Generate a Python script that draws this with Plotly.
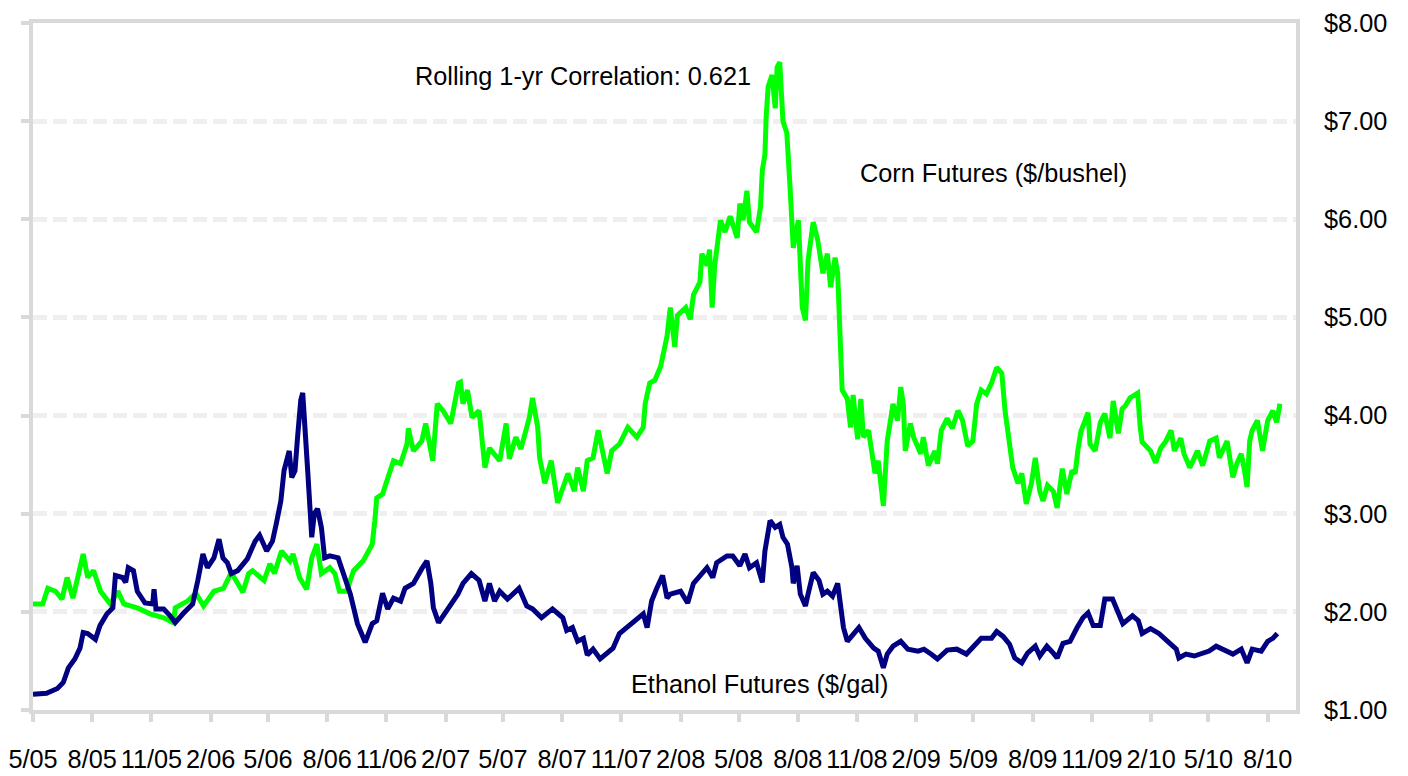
import plotly.graph_objects as go

# ---------------- data ----------------
corn_dates = (
    ["2005-05-01","2005-05-16","2005-05-24","2005-06-05","2005-06-15","2005-06-23","2005-07-02","2005-07-10","2005-07-18","2005-07-25",
     "2005-08-03","2005-08-14","2005-08-29","2005-09-10","2005-09-19","2005-10-10","2005-10-30","2005-11-20","2005-12-05","2005-12-08","2005-12-27"]
    + ["2006-01-09","2006-01-21","2006-02-06","2006-02-21","2006-03-05","2006-03-23","2006-04-01","2006-04-07","2006-04-25","2006-05-04",
       "2006-05-11","2006-05-22","2006-06-04","2006-06-09","2006-06-19","2006-06-30","2006-07-08","2006-07-16","2006-07-23","2006-08-05",
       "2006-08-13","2006-08-20","2006-08-31","2006-09-11","2006-09-26","2006-10-10","2006-10-14","2006-10-17","2006-10-26","2006-11-04",
       "2006-11-12","2006-11-23","2006-12-03","2006-12-05","2006-12-13","2006-12-26"]
    + ["2007-01-01","2007-01-12","2007-01-19","2007-01-28","2007-02-09","2007-02-21","2007-02-24","2007-02-28","2007-03-07","2007-03-14",
       "2007-03-25","2007-04-03","2007-04-10","2007-04-26","2007-05-06","2007-05-11","2007-05-21","2007-05-29","2007-06-11","2007-06-16",
       "2007-06-24","2007-06-27","2007-07-05","2007-07-15","2007-07-25","2007-08-10","2007-08-20","2007-08-25","2007-09-03","2007-09-09",
       "2007-09-18","2007-09-26","2007-10-10","2007-10-17","2007-10-29","2007-11-11","2007-11-25","2007-12-05","2007-12-08","2007-12-15",
       "2007-12-23"]
    + ["2008-01-01","2008-01-11","2008-01-16","2008-01-23","2008-01-27","2008-02-09","2008-02-16","2008-02-21","2008-03-02","2008-03-05",
       "2008-03-13","2008-03-17","2008-03-21","2008-03-25","2008-04-03","2008-04-10","2008-04-18","2008-04-29","2008-05-03","2008-05-08",
       "2008-05-14","2008-05-18","2008-05-29","2008-06-04","2008-06-07","2008-06-11","2008-06-13","2008-06-16","2008-06-22","2008-06-27",
       "2008-06-30","2008-07-04","2008-07-09","2008-07-15","2008-07-20","2008-07-23","2008-07-25","2008-08-02","2008-08-08","2008-08-13",
       "2008-08-17","2008-08-25","2008-09-01","2008-09-09","2008-09-16","2008-09-21","2008-09-28","2008-10-02","2008-10-06","2008-10-09",
       "2008-10-17","2008-10-22","2008-10-26","2008-11-02","2008-11-07","2008-11-11","2008-11-19","2008-11-29","2008-12-04","2008-12-12",
       "2008-12-18","2008-12-22","2008-12-27"]
    + ["2009-01-03","2009-01-08","2009-01-12","2009-01-15","2009-01-23","2009-01-28","2009-02-08","2009-02-12","2009-02-20","2009-03-02",
       "2009-03-06","2009-03-12","2009-03-21","2009-03-29","2009-04-07","2009-04-14","2009-04-22","2009-04-30","2009-05-06","2009-05-13",
       "2009-05-21","2009-05-29","2009-06-06","2009-06-14","2009-06-19","2009-06-23","2009-07-01","2009-07-09","2009-07-15","2009-07-22",
       "2009-07-30","2009-08-05","2009-08-12","2009-08-17","2009-08-24","2009-09-02","2009-09-08","2009-09-16","2009-09-23","2009-10-01",
       "2009-10-06","2009-10-10","2009-10-15","2009-10-26","2009-10-29","2009-11-06","2009-11-14","2009-11-21","2009-11-29","2009-12-04",
       "2009-12-12","2009-12-18","2009-12-23","2009-12-30"]
    + ["2010-01-11","2010-01-15","2010-01-18","2010-01-31","2010-02-08","2010-02-16","2010-02-23","2010-03-04","2010-03-09","2010-03-19",
       "2010-03-24","2010-04-02","2010-04-14","2010-04-22","2010-05-03","2010-05-13","2010-05-18","2010-05-30","2010-06-08","2010-06-14",
       "2010-06-21","2010-06-26","2010-06-30","2010-07-04","2010-07-08","2010-07-16","2010-07-24","2010-08-01","2010-08-09","2010-08-15",
       "2010-08-20"]
)
corn_values = (
    [2.08,2.08,2.24,2.21,2.13,2.35,2.14,2.39,2.59,2.35,2.42,2.21,2.08,2.21,2.08,2.04,1.98,1.94,1.89,2.04,2.11]
    + [2.19,2.06,2.21,2.24,2.40,2.20,2.39,2.42,2.32,2.49, 2.39,2.62,2.52,2.59,2.35,2.23,2.55,2.69,2.39,2.45,
       2.39,2.21,2.21,2.42,2.52,2.69,2.93,3.16,3.20,3.37, 3.54,3.51,3.71,3.87,3.64,3.74]
    + [3.92,3.54,4.12,4.05,3.92,4.33,4.34,4.12,4.26,3.98, 4.05,3.47,3.67,3.54,3.92,3.56,3.78,3.66,3.98,4.18,
       3.88,3.57,3.31,3.54,3.11,3.41,3.23,3.47,3.23,3.54, 3.57,3.85,3.41,3.64,3.71,3.88,3.78,3.88,4.12,4.33, 4.36]
    + [4.50,4.81,5.10,4.70,5.02,5.10,4.98,5.23,5.36,5.65, 5.53,5.69,5.10,5.53,5.99,5.87,6.03,5.81,6.16,5.99,
       6.29,5.97,5.87,6.12,6.50,6.66,7.05,7.35,7.47,7.13, 7.55,7.60,7.00,6.88,6.33,5.92,5.71,5.99,5.10,4.97,
       5.58,5.97,5.79,5.45,5.65,5.31,5.61,5.45,4.84,4.26, 4.17,3.88,4.21,3.76,4.17,3.78,3.85,3.41,3.54,3.08,
       3.74,3.95,4.12]
    + [3.95,4.29,4.12,3.64,3.92,3.78,3.61,3.78,3.49,3.64, 3.51,3.85,3.97,3.87,4.05,3.95,3.69,3.74,4.12,4.26,
       4.22,4.33,4.49,4.43,4.05,3.85,3.47,3.31,3.41,3.10, 3.31,3.57,3.23,3.13,3.29,3.23,3.06,3.46,3.20,3.44,
       3.41,3.64,3.84,4.03,3.71,3.64,3.93,4.02,3.77,4.15, 3.82,4.07,4.10,4.18]
    + [4.23,3.88,3.73,3.64,3.52,3.67,3.73,3.85,3.64,3.77, 3.61,3.47,3.64,3.49,3.74,3.77,3.57,3.74,3.37,3.51,
       3.61,3.44,3.27,3.74,3.85,3.95,3.64,3.95,4.05,3.93, 4.12]
)

ethanol_dates = (
    ["2005-05-01","2005-05-22","2005-06-08","2005-06-17","2005-06-25","2005-07-05","2005-07-13","2005-07-18","2005-07-25","2005-08-06",
     "2005-08-13","2005-08-24","2005-09-02","2005-09-06","2005-09-17","2005-09-22","2005-09-26","2005-10-04","2005-10-10","2005-10-22",
     "2005-11-03","2005-11-05","2005-11-08","2005-11-20","2005-11-30","2005-12-08","2005-12-20"]
    + ["2006-01-04","2006-01-12","2006-01-20","2006-01-27","2006-02-06","2006-02-14","2006-02-20","2006-02-27","2006-03-05","2006-03-15",
       "2006-03-30","2006-04-11","2006-04-18","2006-04-29","2006-05-08","2006-05-14","2006-05-21","2006-05-26","2006-06-03","2006-06-07",
       "2006-06-12","2006-06-16","2006-06-21","2006-06-24","2006-06-27","2006-07-02","2006-07-08","2006-07-12","2006-07-17","2006-07-23",
       "2006-07-28","2006-08-05","2006-08-18","2006-08-25","2006-09-06","2006-09-17","2006-09-29","2006-10-10","2006-10-17","2006-10-26",
       "2006-11-03","2006-11-12","2006-11-23","2006-11-30","2006-12-13","2006-12-26"]
    + ["2007-01-03","2007-01-09","2007-01-13","2007-01-21","2007-02-05","2007-02-20","2007-02-28","2007-03-13","2007-03-25","2007-04-03",
       "2007-04-10","2007-04-18","2007-04-26","2007-05-08","2007-05-26","2007-06-07","2007-06-16","2007-06-30","2007-07-17","2007-08-02",
       "2007-08-08","2007-08-17","2007-08-25","2007-09-03","2007-09-09","2007-09-18","2007-09-29","2007-10-10","2007-10-19","2007-10-29",
       "2007-11-10","2007-11-25","2007-12-05","2007-12-11","2007-12-18","2007-12-26"]
    + ["2008-01-04","2008-01-11","2008-01-16","2008-02-01","2008-02-12","2008-02-21","2008-03-13","2008-03-22","2008-03-28","2008-04-13",
       "2008-04-22","2008-05-03","2008-05-11","2008-05-18","2008-05-29","2008-06-07","2008-06-11","2008-06-19","2008-06-27","2008-07-04",
       "2008-07-09","2008-07-16","2008-07-23","2008-07-25","2008-07-31","2008-08-05","2008-08-13","2008-08-17","2008-08-25","2008-09-03",
       "2008-09-09","2008-09-16","2008-09-24","2008-10-02","2008-10-06","2008-10-11","2008-10-17","2008-10-26","2008-11-04","2008-11-14",
       "2008-11-27","2008-12-04","2008-12-12","2008-12-18","2008-12-27"]
    + ["2009-01-08","2009-01-19","2009-02-04","2009-02-13","2009-02-24","2009-03-06","2009-03-21","2009-04-05","2009-04-20","2009-05-03",
       "2009-05-13","2009-05-29","2009-06-06","2009-06-16","2009-06-26","2009-07-04","2009-07-15","2009-07-24","2009-08-05","2009-08-12",
       "2009-08-23","2009-09-02","2009-09-08","2009-09-17","2009-09-28","2009-10-09","2009-10-18","2009-10-26","2009-11-03","2009-11-14",
       "2009-11-21","2009-12-03","2009-12-10","2009-12-19"]
    + ["2010-01-03","2010-01-12","2010-01-18","2010-01-31","2010-02-13","2010-02-23","2010-03-01","2010-03-12","2010-03-16","2010-03-27",
       "2010-04-09","2010-04-21","2010-05-02","2010-05-13","2010-05-22","2010-06-08","2010-06-21","2010-06-30","2010-07-08","2010-07-22",
       "2010-08-01","2010-08-09","2010-08-16"]
)
ethanol_values = (
    [1.16,1.17,1.22,1.28,1.43,1.52,1.63,1.79,1.78,1.72, 1.86,1.98,2.04,2.37,2.35,2.30,2.45,2.42,2.21,2.09,
     2.08,2.23,2.03,2.03,1.96,1.89,1.98]
    + [2.08,2.32,2.59,2.45,2.55,2.74,2.55,2.50,2.39,2.42, 2.54,2.72,2.78,2.62,2.72,2.90,3.13,3.44,3.64,3.37,
       3.44,3.78,4.16,4.23,3.85,3.41,2.76,3.00,3.05,2.86, 2.55,2.57,2.55,2.42,2.18,1.88,1.69,1.88,1.91,2.19,
       2.03,2.14,2.11,2.24,2.29,2.44]
    + [2.52,2.29,2.04,1.89,2.03,2.18,2.29,2.39,2.32,2.11, 2.29,2.11,2.21,2.13,2.24,2.06,2.03,1.94,2.03,1.94,
       1.81,1.84,1.70,1.73,1.56,1.62,1.52,1.58,1.63,1.78, 1.84,1.93,1.98,1.84,2.11,2.24]
    + [2.37,2.14,2.18,2.21,2.09,2.29,2.45,2.35,2.50,2.57, 2.57,2.47,2.59,2.45,2.50,2.30,2.62,2.93,2.86,2.89,
       2.76,2.69,2.45,2.29,2.47,2.18,2.06,2.18,2.40,2.32, 2.18,2.21,2.16,2.29,2.11,1.84,1.70,1.78,1.84,1.73,
       1.63,1.60,1.43,1.57,1.65]
    + [1.70,1.62,1.60,1.62,1.57,1.52,1.61,1.62,1.57,1.67, 1.73,1.73,1.80,1.75,1.67,1.53,1.48,1.58,1.65,1.55,
       1.65,1.58,1.53,1.68,1.70,1.84,1.94,1.99,1.86,1.86, 2.13,2.13,2.01,1.88]
    + [1.96,1.91,1.78,1.83,1.78,1.72,1.67,1.62,1.53,1.57, 1.55,1.58,1.60,1.65,1.62,1.57,1.62,1.48,1.62,1.60,
       1.70,1.73,1.78]
)

x_tick_dates = ["2005-05-01","2005-08-01","2005-11-01","2006-02-01","2006-05-01","2006-08-01","2006-11-01",
                "2007-02-01","2007-05-01","2007-08-01","2007-11-01","2008-02-01","2008-05-01","2008-08-01",
                "2008-11-01","2009-02-01","2009-05-01","2009-08-01","2009-11-01","2010-02-01","2010-05-01","2010-08-01"]
x_tick_labels = ["5/05","8/05","11/05","2/06","5/06","8/06","11/06","2/07","5/07","8/07","11/07","2/08",
                 "5/08","8/08","11/08","2/09","5/09","8/09","11/09","2/10","5/10","8/10"]
y_tick_vals = [1, 2, 3, 4, 5, 6, 7, 8]
y_tick_labels = ["$1.00", "$2.00", "$3.00", "$4.00", "$5.00", "$6.00", "$7.00", "$8.00"]

correlation_text = "Rolling 1-yr Correlation: 0.621"
corn_label = "Corn Futures ($/bushel)"
ethanol_label = "Ethanol Futures ($/gal)"

# ---------------- figure ----------------
FONT = "Liberation Sans, Arial, Helvetica, sans-serif"
FS = 25.3
BORDER = "#d9d9d9"
Y_RANGE = [1, 8]

fig = go.Figure()
fig.add_trace(go.Scatter(x=ethanol_dates, y=ethanol_values, mode="lines",
                         line=dict(color="#000080", width=5), yaxis="y2",
                         name=ethanol_label, showlegend=False))
fig.add_trace(go.Scatter(x=corn_dates, y=corn_values, mode="lines",
                         line=dict(color="#00ff00", width=5),
                         name=corn_label, showlegend=False))

fig.update_layout(
    width=1408, height=776,
    margin=dict(l=33, r=112, t=23, b=66, autoexpand=False),
    paper_bgcolor="white", plot_bgcolor="white",
    font=dict(family=FONT, size=FS, color="black"),
    xaxis=dict(
        type="date", range=["2005-05-01", "2010-09-14"],
        tickmode="array", tickvals=x_tick_dates, ticktext=x_tick_labels,
        tickangle=0, ticks="outside", ticklen=8, tickwidth=4, tickcolor=BORDER,
        ticklabelstandoff=16, automargin=False,
        showline=True, linecolor=BORDER, linewidth=4, mirror=True,
        showgrid=False, zeroline=False,
        tickfont=dict(family=FONT, size=FS, color="black"),
    ),
    yaxis=dict(
        range=Y_RANGE, side="left", automargin=False,
        tickmode="array", tickvals=y_tick_vals,
        showticklabels=False, ticks="outside", ticklen=8, tickwidth=4, tickcolor=BORDER,
        showline=True, linecolor=BORDER, linewidth=4, mirror=True,
        showgrid=True, gridcolor="#efefef", gridwidth=5, griddash="14px,6px",
        zeroline=False,
    ),
    yaxis2=dict(
        range=Y_RANGE, overlaying="y", side="right", automargin=False,
        tickmode="array", tickvals=y_tick_vals, ticktext=y_tick_labels,
        ticks="", ticklabelstandoff=27, showline=False, showgrid=False, zeroline=False,
        tickfont=dict(family=FONT, size=FS, color="black"),
    ),
    annotations=[
        dict(text=correlation_text, xref="paper", yref="paper", x=0.3005, y=0.9226,
             xanchor="left", yanchor="middle", showarrow=False,
             font=dict(family=FONT, size=FS, color="black")),
        dict(text=corn_label, xref="paper", yref="paper", x=0.6535, y=0.781,
             xanchor="left", yanchor="middle", showarrow=False,
             font=dict(family=FONT, size=FS, color="black")),
        dict(text=ethanol_label, xref="paper", yref="paper", x=0.4715, y=0.038,
             xanchor="left", yanchor="middle", showarrow=False,
             font=dict(family=FONT, size=FS, color="black")),
    ],
)

fig.write_html(
    "out.html",
    config={"displayModeBar": False},
    post_script="document.body.style.margin='0px';document.body.style.overflow='hidden';",
)
